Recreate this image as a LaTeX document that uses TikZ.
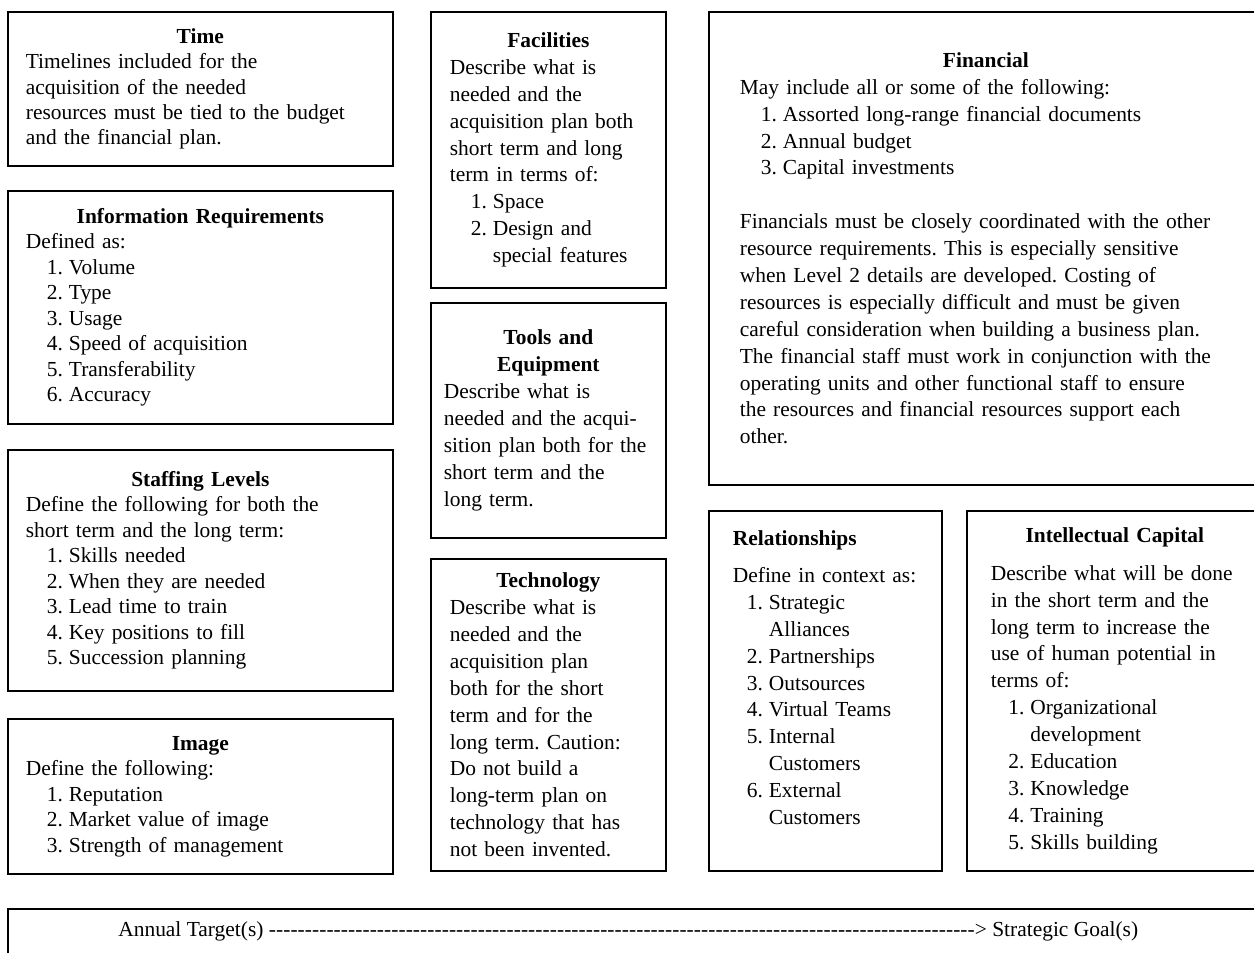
\documentclass[tikz,border=0pt]{standalone}
\usepackage{fontspec}
\setmainfont{Liberation Serif}
\usepackage{tikz}
\usetikzlibrary{positioning, calc}
\frenchspacing
\newcommand{\btitle}[1]{\makebox[\hsize][c]{\bfseries #1}}
\newcommand{\litem}[3][12pt]{\hspace*{#1}\makebox[12.5pt][l]{#2.}#3}
\newcommand{\lcont}[2][12pt]{\hspace*{#1}\hspace*{12.5pt}#2}
\tikzset{
    rbox/.style={draw, line width=1pt, anchor=north west, align=left, inner ysep=0pt, font=\fontsize{12.2}{14.5}\selectfont},
    rboxw/.style={rbox, font=\fontsize{12.2}{15.3}\selectfont},
    rline/.style={anchor=west, inner sep=0pt, font=\fontsize{12.2}{14.5}\selectfont},
}
\begin{document}
\begin{tikzpicture}[x=0.02cm, y=-0.02cm]
        \useasboundingbox (0,0) rectangle (1254,953);
        \clip (0,0) rectangle (1254,953);
        % left column
        \node[rbox, inner xsep=0.36cm, text width=6.98cm, minimum height=3.08cm] (time) at (7,11) {\btitle{Time}\\
            Timelines included for the\\ acquisition of the needed\\ resources must be tied to the budget\\ and the financial plan.};
        \node[rbox, inner xsep=0.36cm, text width=6.98cm, minimum height=4.66cm] (info) at (7,190) {\btitle{Information Requirements}\\
            Defined as:\\ \litem{1}{Volume}\\ \litem{2}{Type}\\ \litem{3}{Usage}\\ \litem{4}{Speed of acquisition}\\ \litem{5}{Transferability}\\ \litem{6}{Accuracy}};
        \node[rbox, inner xsep=0.36cm, text width=6.98cm, minimum height=4.82cm] (staff) at (7,449) {\btitle{Staffing Levels}\\
            Define the following for both the\\ short term and the long term:\\ \litem{1}{Skills needed}\\ \litem{2}{When they are needed}\\ \litem{3}{Lead time to train}\\ \litem{4}{Key positions to fill}\\ \litem{5}{Succession planning}};
        \node[rbox, inner xsep=0.36cm, text width=6.98cm, minimum height=3.1cm] (image) at (7,718) {\btitle{Image}\\
            Define the following:\\ \litem{1}{Reputation}\\ \litem{2}{Market value of image}\\ \litem{3}{Strength of management}};
        % middle column
        \node[rboxw, inner xsep=0.38cm, text width=3.94cm, minimum height=5.52cm] (facil) at (430,11) {\btitle{Facilities}\\
            Describe what is\\ needed and the\\ acquisition plan both\\ short term and long\\ term in terms of:\\ \litem{1}{Space}\\ \litem{2}{Design and}\\ \lcont{special features}};
        \node[rboxw, inner xsep=0.26cm, text width=4.18cm, minimum height=4.7cm] (tools) at (430,302) {\btitle{Tools and}\\ \btitle{Equipment}\\
            Describe what is\\ needed and the acqui-\\ sition plan both for the\\ short term and the\\ long term.};
        \node[rboxw, inner xsep=0.38cm, text width=3.94cm, minimum height=6.24cm] (tech) at (430,558) {\btitle{Technology}\\
            Describe what is\\ needed and the\\ acquisition plan\\ both for the short\\ term and for the\\ long term. Caution:\\ Do not build a\\ long-term plan on\\ technology that has\\ not been invented.};
        % right column
        \node[rboxw, inner xsep=0.62cm, text width=9.84cm, minimum height=9.46cm] (fin) at (708,11) {\btitle{Financial}\\
            May include all or some of the following:\\ \litem{1}{Assorted long-range financial documents}\\ \litem{2}{Annual budget}\\ \litem{3}{Capital investments}\\[\baselineskip]
            Financials must be closely coordinated with the other\\ resource requirements. This is especially sensitive\\ when Level 2 details are developed. Costing of\\ resources is especially difficult and must be given\\ careful consideration when building a business plan.\\ The financial staff must work in conjunction with the\\ operating units and other functional staff to ensure\\ the resources and financial resources support each\\ other.};
        \node[rboxw, inner xsep=0.48cm, text width=3.7cm, minimum height=7.2cm] (rel) at (708,510) {\textbf{Relationships}\\[6pt]
            Define in context as:\\ \litem[8pt]{1}{Strategic}\\ \lcont[8pt]{Alliances}\\ \litem[8pt]{2}{Partnerships}\\ \litem[8pt]{3}{Outsources}\\ \litem[8pt]{4}{Virtual Teams}\\ \litem[8pt]{5}{Internal}\\ \lcont[8pt]{Customers}\\ \litem[8pt]{6}{External}\\ \lcont[8pt]{Customers}\\ \mbox{}};
        \node[rboxw, inner xsep=0.48cm, text width=4.96cm, minimum height=7.2cm] (intel) at (966,510) {\btitle{Intellectual Capital}\\[6pt]
            Describe what will be done\\ in the short term and the\\ long term to increase the\\ use of human potential in\\ terms of:\\ \litem[10pt]{1}{Organizational}\\ \lcont[10pt]{development}\\ \litem[10pt]{2}{Education}\\ \litem[10pt]{3}{Knowledge}\\ \litem[10pt]{4}{Training}\\ \litem[10pt]{5}{Skills building}};
        % bottom strip
        \node[draw, line width=1pt, anchor=north west, minimum width=25.2cm, minimum height=0.96cm] (strip) at (7,908) {};
        \node[rline] (goals) at (118,931) {\hbox to 20.4cm{Annual Target(s) \xleaders\hbox{-}\hfill> Strategic Goal(s)}};
    \end{tikzpicture}
\end{document}
